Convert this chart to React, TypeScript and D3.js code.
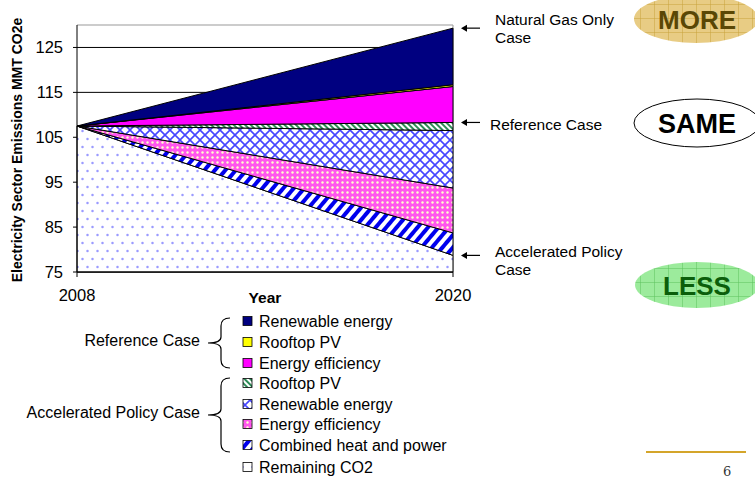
import React from "react";
import * as d3 from "d3";

// Emissions scenario wedges, MMT CO2e (stacked from the bottom)
const years = [2008, 2020];
const remainingCO2 = [107.5, 78.7];
const accelCHP = [0, 5.0];
const accelEfficiency = [0, 10.0];
const accelRenewable = [0, 12.8];
const accelRooftopPV = [0, 1.8];
const refEfficiency = [0, 8.0];
const refRooftopPV = [0, 0.4];
const refRenewable = [0, 12.6];

const yTicks = [75, 85, 95, 105, 115, 125];
const xTicks = [2008, 2020];

const seriesKeys = [
  "remaining",
  "accelCHP",
  "accelEfficiency",
  "accelRenewable",
  "accelRooftopPV",
  "refEfficiency",
  "refRooftopPV",
  "refRenewable",
];

const seriesValues: Record<string, number[]> = {
  remaining: remainingCO2,
  accelCHP,
  accelEfficiency,
  accelRenewable,
  accelRooftopPV,
  refEfficiency,
  refRooftopPV,
  refRenewable,
};

const fills: Record<string, string> = {
  remaining: "url(#pRemaining)",
  accelCHP: "url(#pCHP)",
  accelEfficiency: "url(#pEEAccel)",
  accelRenewable: "url(#pREAccel)",
  accelRooftopPV: "url(#pPVAccel)",
  refEfficiency: "#ff00ff",
  refRooftopPV: "#ffff00",
  refRenewable: "#000080",
};

const refLegend = [
  { key: "refRenewable", label: "Renewable energy" },
  { key: "refRooftopPV", label: "Rooftop PV" },
  { key: "refEfficiency", label: "Energy efficiency" },
];
const accelLegend = [
  { key: "accelRooftopPV", label: "Rooftop PV" },
  { key: "accelRenewable", label: "Renewable energy" },
  { key: "accelEfficiency", label: "Energy efficiency" },
  { key: "accelCHP", label: "Combined heat and power" },
  { key: "remaining", label: "Remaining CO2" },
];

const font = "Liberation Sans, Arial, sans-serif";

const width = 755;
const height = 478;
const plot = { left: 77, right: 453, top: 25, bottom: 272 };

function brace(xTip: number, xEnd: number, y1: number, y2: number) {
  const xs = xEnd - 9;
  const ym = (y1 + y2) / 2;
  return `M${xEnd},${y1} Q${xs},${y1} ${xs},${y1 + 8} L${xs},${ym - 6} Q${xs},${ym} ${xTip},${ym} Q${xs},${ym} ${xs},${ym + 6} L${xs},${y2 - 8} Q${xs},${y2} ${xEnd},${y2}`;
}

export default function App() {
  const x = d3.scaleLinear().domain([2008, 2020]).range([plot.left, plot.right]);
  const y = d3.scaleLinear().domain([75, 130]).range([plot.bottom, plot.top]);

  const table = years.map((yr, i) => {
    const row: Record<string, number> = { year: yr };
    seriesKeys.forEach((k) => (row[k] = seriesValues[k][i]));
    return row;
  });
  const stacked = d3.stack<Record<string, number>>().keys(seriesKeys)(table);

  // remaining CO2 sits on the axis floor, the rest on the stack below
  const area = d3
    .area<d3.SeriesPoint<Record<string, number>>>()
    .x((d) => x(d.data.year))
    .y0((d) => y(Math.max(d[0], 75)))
    .y1((d) => y(d[1]));

  const last = years.length - 1;
  const topNatGas = stacked[stacked.length - 1][last][1];
  const topReference = stacked[4][last][1];
  const topAccel = stacked[0][last][1];

  const arrows = [
    { v: topNatGas, lines: ["Natural Gas Only", "Case"], dx: 495, dy: -3 },
    { v: topReference, lines: ["Reference Case"], dx: 490, dy: 8 },
    { v: topAccel, lines: ["Accelerated Policy", "Case"], dx: 495, dy: 2 },
  ];

  const legendRow = (key: string, label: string, cy: number) => (
    <g key={key + cy}>
      <rect x={243} y={cy - 4.5} width={9} height={9} fill={fills[key]} stroke="#000" strokeWidth={0.8} />
      <text x={259} y={cy + 5.5} fontSize={16} fontFamily={font}>
        {label}
      </text>
    </g>
  );

  return (
    <svg width={width} height={height} style={{ position: "absolute", left: 0, top: 0, background: "#fff" }}>
      <defs>
        <pattern id="pRemaining" width={10} height={16} patternUnits="userSpaceOnUse">
          <rect width={10} height={16} fill="#fff" />
          <circle cx={2.5} cy={3} r={1.25} fill="#9a9aff" />
          <circle cx={7.5} cy={11} r={1.25} fill="#9a9aff" />
        </pattern>
        <pattern id="pCHP" width={8} height={8} patternUnits="userSpaceOnUse" patternTransform="rotate(40)">
          <rect width={8} height={8} fill="#fff" />
          <rect width={4} height={8} fill="#0000ee" />
        </pattern>
        <pattern id="pEEAccel" width={5} height={5} patternUnits="userSpaceOnUse">
          <rect width={5} height={5} fill="#ff55ee" />
          <circle cx={2.5} cy={2.5} r={1.2} fill="#ffffcc" />
        </pattern>
        <pattern id="pREAccel" width={10} height={10} patternUnits="userSpaceOnUse">
          <rect width={10} height={10} fill="#fff" />
          <path d="M0,0 L10,10 M10,0 L0,10" stroke="#4646ff" strokeWidth={1.6} />
        </pattern>
        <pattern id="pPVAccel" width={4} height={4} patternUnits="userSpaceOnUse" patternTransform="rotate(-45)">
          <rect width={4} height={4} fill="#fff" />
          <rect width={2} height={4} fill="#2e8b57" />
        </pattern>
        <pattern id="pMore" width={14} height={14} patternUnits="userSpaceOnUse" x={640} y={4}>
          <rect width={14} height={14} fill="#e8cc84" />
          <path d="M0,0 H14 M0,0 V14" stroke="#c9a23a" strokeWidth={1} />
        </pattern>
        <pattern id="pLess" width={14} height={14} patternUnits="userSpaceOnUse" x={640} y={268}>
          <rect width={14} height={14} fill="#9ceb9c" />
          <path d="M0,0 H14 M0,0 V14" stroke="#5cc25c" strokeWidth={1} />
        </pattern>
      </defs>

      {/* plot frame and gridlines */}
      <line x1={plot.left} x2={plot.right} y1={plot.top} y2={plot.top} stroke="#999" />
      <line x1={plot.right} x2={plot.right} y1={plot.top} y2={plot.bottom} stroke="#999" />
      {yTicks.map((t) => (
        <line key={t} x1={plot.left} x2={plot.right} y1={y(t)} y2={y(t)} stroke="#000" strokeWidth={1} />
      ))}

      {/* stacked wedges */}
      {stacked.map((s) => (
        <path key={s.key} d={area(s) || ""} fill={fills[s.key]} stroke="#000" strokeWidth={1} />
      ))}

      {/* axes */}
      <line x1={plot.left} x2={plot.left} y1={plot.top} y2={plot.bottom} stroke="#000" />
      <line x1={plot.left} x2={plot.right} y1={plot.bottom} y2={plot.bottom} stroke="#000" />
      {yTicks.map((t) => (
        <g key={t}>
          <line x1={plot.left - 4} x2={plot.left} y1={y(t)} y2={y(t)} stroke="#000" />
          <text x={63} y={y(t) + 6} textAnchor="end" fontSize={16.5} fontFamily={font}>
            {t}
          </text>
        </g>
      ))}
      {xTicks.map((t) => (
        <g key={t}>
          <line x1={x(t)} x2={x(t)} y1={plot.bottom} y2={plot.bottom + 5} stroke="#000" />
          <text x={x(t)} y={301} textAnchor="middle" fontSize={16.5} fontFamily={font}>
            {t}
          </text>
        </g>
      ))}
      <text x={265} y={303} textAnchor="middle" fontSize={15.5} fontWeight="bold" fontFamily={font}>
        Year
      </text>
      <text
        transform="translate(22,150) rotate(-90)"
        textAnchor="middle"
        fontSize={14}
        fontWeight="bold"
        fontFamily={font}
      >
        Electricity Sector Emissions MMT CO2e
      </text>

      {/* case arrows */}
      {arrows.map((a, i) => (
        <g key={i}>
          <line x1={466} x2={480} y1={y(a.v)} y2={y(a.v)} stroke="#000" strokeWidth={1.2} />
          <path d={`M461,${y(a.v)} l6,-3.5 l0,7 Z`} fill="#000" />
          {a.lines.map((l, j) => (
            <text key={j} x={a.dx} y={y(a.v) + a.dy + j * 18} fontSize={15.5} fontFamily={font}>
              {l}
            </text>
          ))}
        </g>
      ))}

      {/* MORE / SAME / LESS badges */}
      <ellipse cx={696} cy={19} rx={62} ry={24} fill="url(#pMore)" />
      <text x={697} y={29} textAnchor="middle" fontSize={26} fontWeight="bold" fontFamily={font} fill="#5a4705">
        MORE
      </text>
      <ellipse cx={697} cy={123} rx={63} ry={24} fill="#fff" stroke="#000" strokeWidth={1} />
      <text x={697} y={133} textAnchor="middle" fontSize={27} fontWeight="bold" fontFamily={font} fill="#000">
        SAME
      </text>
      <ellipse cx={697} cy={285} rx={62} ry={23} fill="url(#pLess)" />
      <text x={697} y={295} textAnchor="middle" fontSize={26} fontWeight="bold" fontFamily={font} fill="#0b5e0b">
        LESS
      </text>

      {/* legend */}
      <text x={200} y={346} textAnchor="end" fontSize={16} fontFamily={font}>
        Reference Case
      </text>
      <path d={brace(208, 230, 318, 368)} fill="none" stroke="#000" strokeWidth={1.2} />
      {refLegend.map((r, i) => legendRow(r.key, r.label, [321, 342, 363][i]))}
      <text x={200} y={418} textAnchor="end" fontSize={16} fontFamily={font}>
        Accelerated Policy Case
      </text>
      <path d={brace(208, 230, 378, 452)} fill="none" stroke="#000" strokeWidth={1.2} />
      {accelLegend.map((r, i) => legendRow(r.key, r.label, [383, 404, 424, 445, 467][i]))}

      {/* slide footer */}
      <line x1={646} x2={746} y1={452} y2={452} stroke="#d4a52a" strokeWidth={2} />
      <text x={723} y={476} fontSize={13} fontFamily="DejaVu Serif, serif" fill="#333">
        6
      </text>
    </svg>
  );
}
